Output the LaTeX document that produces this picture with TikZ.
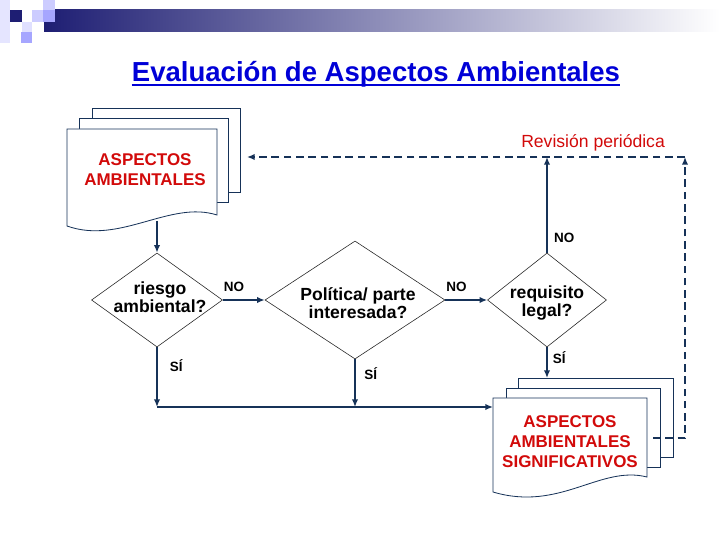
\documentclass[tikz,border=0pt]{standalone}
\usepackage{fontspec}
\setmainfont{Liberation Sans}
\usetikzlibrary{arrows.meta, positioning, shapes.geometric}

\definecolor{navy}{RGB}{22,50,88}
\definecolor{deepred}{RGB}{210,10,10}
\definecolor{titleblue}{RGB}{0,0,215}
\definecolor{barnavy}{RGB}{30,30,115}

\begin{document}
\begin{tikzpicture}[
  x=0.03cm, y=-0.03cm,
  conn/.style={draw=navy, line width=2pt, -{Latex[length=6.5pt,width=5.5pt]}},
  review/.style={draw=navy, line width=2pt, dash pattern=on 6.5pt off 4pt},
  sheet/.style={draw=navy, fill=white, line width=0.7pt},
  decision/.style={diamond, draw=black!85, line width=0.5pt, inner sep=0pt},
  asktext/.style={font=\bfseries\fontsize{15}{15.5}\selectfont, align=center, inner sep=0pt},
  doctext/.style={font=\bfseries\fontsize{14.5}{17}\selectfont, text=deepred, align=center, inner sep=0pt},
  answer/.style={font=\bfseries\fontsize{11.5}{12}\selectfont, inner sep=0pt}
]
  \useasboundingbox (0,0) rectangle (720,540);

  % header bar
  \shade[left color=barnavy, right color=white] (44,10) rectangle (720,32);
  \fill[blue!10!white] (0,0) rectangle (10,43);
  \fill[barnavy] (10,10) rectangle (22,22);
  \fill[blue!12!white] (22,22) rectangle (32,32);
  \fill[blue!35!white] (21,32) rectangle (32,43);
  \fill[blue!20!white] (32,10) rectangle (43,22);
  \fill[blue!20!white] (43,0) rectangle (55,10);
  \fill[blue!35!white] (43,10) rectangle (55,22);

  \node[font=\bfseries\fontsize{23.5}{27}\selectfont, text=titleblue, inner sep=0pt,
        anchor=base] (title) at (376,82) {Evaluación de Aspectos Ambientales};
  \draw[titleblue, line width=1.6pt] ([yshift=-2.5pt]title.base west) -- ([yshift=-2.5pt]title.base east);

  % environmental aspects document
  \draw[sheet] (92,108) rectangle (240,192);
  \draw[sheet] (79,118) rectangle (228,202);
  \draw[sheet] (67,129) -- (217,129) -- (217,215)
    .. controls (170,200) and (120,245) .. (67,226) -- cycle;
  \node[doctext] (asp) at (145,170) {ASPECTOS\\AMBIENTALES};
  \coordinate (asp-out) at (157,221);
  \coordinate (asp-in) at (247,157);

  % questions
  \node[decision, minimum width=3.93cm, minimum height=2.82cm] (risk) at (157,300) {};
  \node[asktext] at (160,297) {riesgo\\ambiental?};
  \node[decision, minimum width=5.4cm, minimum height=3.54cm] (party) at (355,300) {};
  \node[asktext] at (358,303) {Política/ parte\\interesada?};
  \node[decision, minimum width=3.57cm, minimum height=2.82cm] (legal) at (547,300) {};
  \node[asktext] at (547,303) {requisito\\legal?};

  % significant aspects document
  \draw[sheet] (518,378) rectangle (673,457);
  \draw[sheet] (506,388) rectangle (660,467);
  \draw[sheet] (493,398) -- (647,398) -- (647,477)
    .. controls (600,465) and (560,512) .. (493,492) -- cycle;
  \node[doctext] (sig) at (570,442) {ASPECTOS\\AMBIENTALES\\SIGNIFICATIVOS};
  \coordinate (sig-in) at (493,407);
  \coordinate (sig-top) at (547,378);
  \coordinate (sig-out) at (653,438);
  \coordinate (join) at (157,407);
  \coordinate (loop) at (685,157);

  % flow
  \draw[conn] (asp-out) -- (risk.north);
  \draw[conn] (risk.east) -- (party.west)
    node[answer, pos=0, anchor=south west, yshift=6pt] {NO};
  \draw[conn] (party.east) -- (legal.west)
    node[answer, pos=0, anchor=south west, yshift=6pt] {NO};
  \draw[conn] (risk.south) -- (join)
    node[answer, pos=0.3, anchor=west, xshift=10pt] {SÍ};
  \draw[conn] (party.south) -- (party.south |- join)
    node[answer, pos=0.29, anchor=west, xshift=7pt] {SÍ};
  \draw[conn] (join) -- (sig-in);
  \draw[conn] (legal.south) -- (sig-top)
    node[answer, pos=0.35, anchor=west, xshift=4pt] {SÍ};
  \draw[conn] (legal.north) -- (legal.north |- loop)
    node[answer, pos=0.16, anchor=west, xshift=5pt] {NO};

  % periodic review loop
  \draw[review, -{Latex[length=6.5pt,width=5.5pt]}] (sig-out) -| (loop);
  \draw[review, -{Latex[length=6.5pt,width=5.5pt]}] (loop) -- (asp-in);
  \node[font=\fontsize{15}{17}\selectfont, text=deepred, inner sep=0pt,
        above left=5pt and 17pt of loop] (rev) {Revisión periódica};
\end{tikzpicture}
\end{document}
